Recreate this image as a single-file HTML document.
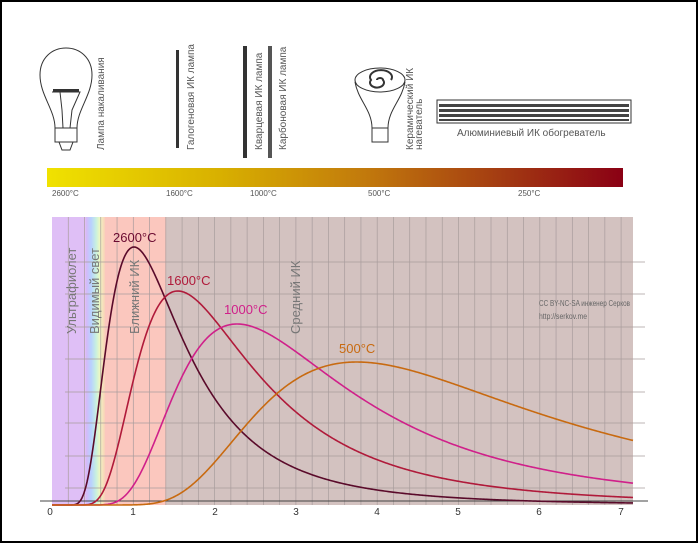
<!DOCTYPE html>
<html><head><meta charset="utf-8"><style>
html,body{margin:0;padding:0;background:#fff}
svg{display:block}
text{font-family:"Liberation Sans",sans-serif}
</style></head><body>
<svg id="s" width="700" height="544" viewBox="0 0 700 544" xmlns="http://www.w3.org/2000/svg">
<defs>
<linearGradient id="bar" x1="0" x2="1">
<stop offset="0" stop-color="#f0e200"/>
<stop offset="0.3" stop-color="#d8b000"/>
<stop offset="0.55" stop-color="#c27a0c"/>
<stop offset="0.8" stop-color="#a23812"/>
<stop offset="1" stop-color="#8a0014"/>
</linearGradient>
<linearGradient id="rain" x1="0" x2="1">
<stop offset="0" stop-color="#d8b8f8"/>
<stop offset="0.25" stop-color="#b8d0ff"/>
<stop offset="0.5" stop-color="#c8f0e0"/>
<stop offset="0.7" stop-color="#f0f8c0"/>
<stop offset="1" stop-color="#fcc8b8"/>
</linearGradient>
</defs>
<rect x="1" y="1" width="696" height="541" fill="#fff" stroke="#000" stroke-width="2"/>

<!-- icons -->
<g fill="none" stroke="#333" stroke-width="1">
<path d="M55 128 C55 110 40 95 40 75 C40 58 52 48 66 48 C80 48 92 58 92 75 C92 95 77 110 77 128 Z"/>
<path d="M52 92 L80 92 L72 110 L70 128 M60 92 L62 110 L63 128"/>
<rect x="55" y="128" width="22" height="14"/>
<path d="M59 142 L73 142 L70 150 L62 150 Z"/>
</g>
<rect x="53" y="89" width="26" height="3" fill="#333"/>
<rect x="176" y="50" width="3" height="98" fill="#333"/>
<rect x="243" y="46" width="4" height="112" fill="#333"/>
<rect x="268" y="46" width="4" height="112" fill="#555"/>
<g fill="none" stroke="#333" stroke-width="1">
<ellipse cx="380" cy="80" rx="25" ry="12"/>
<path d="M355 82 C358 100 372 110 372 128 L388 128 C388 110 402 100 405 82"/>
<rect x="372" y="128" width="16" height="14"/>
<path d="M380 80 m-3 0 a3 2 0 1 1 6 0 a7 5 0 1 1 -12 0 a11 7 0 1 1 20 0" stroke-width="2"/>
</g>
<rect x="437" y="100" width="194" height="23" fill="#fff" stroke="#333"/>
<rect x="439" y="104" width="190" height="3" fill="#444"/>
<rect x="439" y="109" width="190" height="3" fill="#444"/>
<rect x="439" y="114" width="190" height="3" fill="#444"/>
<rect x="439" y="119" width="190" height="2" fill="#444"/>
<g fill="#555" font-size="10">
<text transform="translate(104,150) rotate(-90)">Лампа накаливания</text>
<text transform="translate(194,150) rotate(-90)">Галогеновая ИК лампа</text>
<text transform="translate(262,150) rotate(-90)">Кварцевая ИК лампа</text>
<text transform="translate(286,150) rotate(-90)">Карбоновая ИК лампа</text>
<text transform="translate(413,150) rotate(-90)">Керамический ИК</text>
<text transform="translate(422,150) rotate(-90)">нагеватель</text>
<text x="457" y="136">Алюминиевый ИК обогреватель</text>
</g>
<rect x="47" y="168" width="576" height="19" fill="url(#bar)"/>
<g fill="#555" font-size="8">
<text x="52" y="196">2600°C</text><text x="166" y="196">1600°C</text><text x="250" y="196">1000°C</text><text x="368" y="196">500°C</text><text x="518" y="196">250°C</text>
</g>

<!-- plot backgrounds -->
<rect x="52" y="217" width="34" height="288" fill="#dfbff6"/>
<rect x="86" y="217" width="20" height="288" fill="url(#rain)"/>
<rect x="105" y="217" width="62" height="288" fill="#fbc7be"/>
<rect x="166" y="217" width="467" height="288" fill="#d3c2c0"/>
<g id="grid" stroke="#a89c9c" stroke-width="0.7"></g>
<line x1="40" y1="501" x2="648" y2="501" stroke="#444" stroke-width="1"/>
<g id="curves" fill="none" stroke-width="1.6"></g>
<g fill="#333" font-size="10" text-anchor="middle">
<text x="50" y="515">0</text><text x="133" y="515">1</text><text x="215" y="515">2</text><text x="296" y="515">3</text><text x="377" y="515">4</text><text x="458" y="515">5</text><text x="539" y="515">6</text><text x="621" y="515">7</text>
</g>
<g fill="#777" font-size="13">
<text transform="translate(76,334) rotate(-90)">Ультрафиолет</text>
<text transform="translate(99,334) rotate(-90)">Видимый свет</text>
<text transform="translate(139,334) rotate(-90)">Ближний ИК</text>
<text transform="translate(300,334) rotate(-90)">Средний ИК</text>
</g>
<g font-size="13">
<text x="113" y="242" fill="#6a0a30">2600°C</text>
<text x="167" y="285" fill="#b01a3a">1600°C</text>
<text x="224" y="314" fill="#d0208a">1000°C</text>
<text x="339" y="353" fill="#c86a10">500°C</text>
</g>
<g fill="#666" font-size="8.5">
<text x="539" y="306" textLength="91" lengthAdjust="spacingAndGlyphs">CC BY-NC-SA инженер Серков</text>
<text x="539" y="319" textLength="48" lengthAdjust="spacingAndGlyphs">http://serkov.me</text>
</g>
</svg>
<script>
var ns="http://www.w3.org/2000/svg";
var g=document.getElementById("grid");
function L(x1,y1,x2,y2){var l=document.createElementNS(ns,"line");l.setAttribute("x1",x1);l.setAttribute("y1",y1);l.setAttribute("x2",x2);l.setAttribute("y2",y2);g.appendChild(l);}
for(var i=1;i<=35;i++){var x=52+81.3*0.2*i;L(x,217,x,505);}
[262,294,327,359,392,423,456,488].forEach(function(y){L(65,y,645,y);});
var c=document.getElementById("curves");
[[2873,258,"#5a0a2a"],[1873,214,"#b01a3a"],[1273,181,"#d0208a"],[773,143,"#c86a10"]].forEach(function(a){
 var T=a[0],H=a[1];function B(l){var x=14388/(l*T);return Math.pow(x,5)/(Math.exp(x)-1);}
 var bp=B(2898/T),d="M52 505";
 for(var px=52;px<=633;px+=1){var l=(px-52)/81.3;var v=l>0.05?B(l)/bp:0;if(!isFinite(v))v=0;d+=" L"+px+" "+(505-H*v).toFixed(2);}
 var p=document.createElementNS(ns,"path");p.setAttribute("d",d);p.setAttribute("stroke",a[2]);c.appendChild(p);
});
</script>
</body></html>
